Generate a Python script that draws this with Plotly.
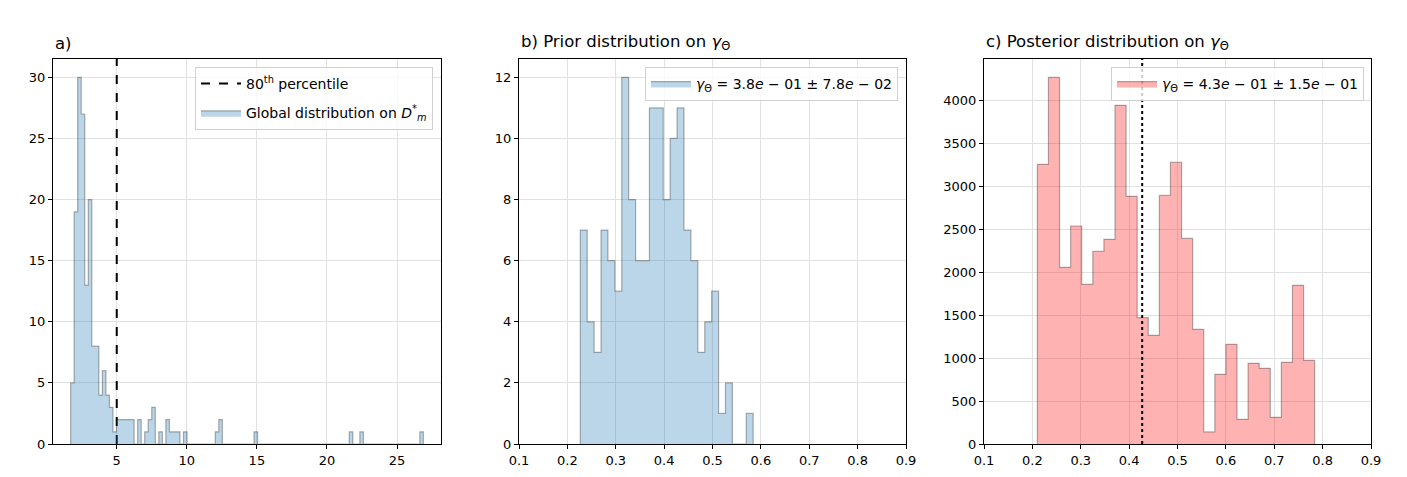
#!/usr/bin/env python3
# -*- coding:utf-8 -*-

import numpy as np
import plotly.graph_objects as go


# the page body keeps its default 8px margin, so the figure is drawn
# 8px inside the window: size it to fit and place things in window pixels
WIN_W   = 1407
WIN_H   = 477
PAD     = 8
FIG_W   = WIN_W - 2 * PAD
FIG_H   = WIN_H - 2 * PAD

# a) global distribution on D*_m : 100 bins between A_LO and A_HI
A_LO = 1.71
A_HI = 26.88
A_COUNTS = [
	5, 19, 30, 27, 13, 20, 8, 8, 4, 6,
	4, 3, 1, 2, 2, 2, 2, 2, 0, 2,
	0, 1, 2, 3, 0, 1, 0, 2, 1, 1,
	1, 0, 1, 0, 0, 0, 0, 0, 0, 0,
	0, 1, 2, 0, 0, 0, 0, 0, 0, 0,
	0, 0, 1, 0, 0, 0, 0, 0, 0, 0,
	0, 0, 0, 0, 0, 0, 0, 0, 0, 0,
	0, 0, 0, 0, 0, 0, 0, 0, 0, 1,
	0, 0, 1, 0, 0, 0, 0, 0, 0, 0,
	0, 0, 0, 0, 0, 0, 0, 0, 0, 1,
]
A_PERCENTILE = 5.0

# b) prior distribution on gamma : 25 bins
B_LO = 0.2267
B_HI = 0.584
B_COUNTS = [
	7, 4, 3, 7, 6, 5, 12, 8, 6, 6,
	11, 11, 8, 10, 11, 7, 6, 3, 4, 5,
	1, 2, 0, 0, 1,
]
B_LABEL = '<i>γ</i><sub>Θ</sub> = 3.8<i>e</i> − 01 ± 7.8<i>e</i> − 02'

# c) posterior distribution on gamma : 25 bins
C_LO = 0.2103
C_HI = 0.7835
C_COUNTS = [
	3252, 4264, 2054, 2535, 1857, 2240, 2380, 3938, 2880, 1469,
	1264, 2891, 3275, 2391, 1333, 140, 810, 1159, 287, 938,
	880, 310, 950, 1845, 973,
]
C_MEAN = 0.427
C_LABEL = '<i>γ</i><sub>Θ</sub> = 4.3<i>e</i> − 01 ± 1.5<i>e</i> − 01'

GAMMA_TICKS = [0.1, 0.2, 0.3, 0.4, 0.5, 0.6, 0.7, 0.8, 0.9]

BLUE_FILL = 'rgba(31,119,180,0.3)'
RED_FILL  = 'rgba(255,0,0,0.3)'
EDGE      = 'rgba(0,0,0,0.3)'
FONT      = 'DejaVu Sans'


def px2paper(xPx, yPx):
	# window pixels -> paper fractions
	return (xPx - PAD) / FIG_W, 1 - (yPx - PAD) / FIG_H


def StepTrace(lo, hi, counts, fillColor, name, xa, ya, legend, showLegend=True):
	# matplotlib style 'stepfilled' outline through hv line shape
	edges = np.linspace(lo, hi, len(counts) + 1)
	xs = [edges[0]] + list(edges[:-1]) + [edges[-1], edges[-1]]
	ys = [0] + list(counts) + [counts[-1], 0]
	return go.Scatter(
		x=xs, y=ys,
		mode='lines',
		line=dict(shape='hv', color=EDGE, width=1.2),
		fill='tozeroy',
		fillcolor=fillColor,
		name=name,
		xaxis=xa, yaxis=ya,
		legend=legend,
		legendgroup=name,
		showlegend=showLegend,
	)


def AxisStyle(domain, **kw):
	d = dict(
		domain=domain,
		automargin=False,
		showline=True, mirror=True, linecolor='black', linewidth=1,
		ticks='outside', ticklen=4, tickcolor='black',
		showgrid=True, gridcolor='#e1e1e1', gridwidth=1,
		zeroline=False,
		tickfont=dict(family=FONT, size=13, color='black'),
	)
	d.update(kw)
	return d


def XDomain(leftPx, rightPx):
	return [px2paper(leftPx, PAD)[0], px2paper(rightPx, PAD)[0]]


def main() -> None:
	fig = go.Figure()

	# panel a
	aTop = max(A_COUNTS) * 1.05
	fig.add_trace(go.Scatter(
		x=[A_PERCENTILE, A_PERCENTILE], y=[0, aTop],
		mode='lines',
		line=dict(color='black', dash='dash', width=2),
		name='80<sup>th</sup> percentile',
		xaxis='x', yaxis='y', legend='legend', legendgroup='pct',
	))
	fig.add_trace(StepTrace(
		A_LO, A_HI, A_COUNTS, BLUE_FILL,
		'Global distribution on <i>D</i><sup>*</sup><sub><i>m</i></sub>',
		'x', 'y', 'legend',
	))

	# panel b
	fig.add_trace(StepTrace(B_LO, B_HI, B_COUNTS, BLUE_FILL, B_LABEL, 'x2', 'y2', 'legend2'))

	# panel c
	cTop = max(C_COUNTS) * 1.05
	fig.add_trace(StepTrace(C_LO, C_HI, C_COUNTS, RED_FILL, C_LABEL, 'x3', 'y3', 'legend3'))
	fig.add_trace(go.Scatter(
		x=[C_MEAN, C_MEAN], y=[0, cTop],
		mode='lines',
		line=dict(color='black', dash='dot', width=2),
		xaxis='x3', yaxis='y3', showlegend=False,
	))

	yDom = [px2paper(PAD, 444)[1], px2paper(PAD, 59)[1]]
	aMargin = (A_HI - A_LO) * 0.05

	fig.update_layout(
		width=FIG_W, height=FIG_H,
		margin=dict(l=0, r=0, t=0, b=0),
		plot_bgcolor='white', paper_bgcolor='white',
		font=dict(family=FONT, size=13, color='black'),
		xaxis=AxisStyle(XDomain(53, 441),
			range=[A_LO - aMargin, A_HI + aMargin], tick0=0, dtick=5, anchor='y'),
		yaxis=AxisStyle(yDom, range=[0, aTop], tick0=0, dtick=5, anchor='x'),
		xaxis2=AxisStyle(XDomain(519, 906),
			range=[GAMMA_TICKS[0], GAMMA_TICKS[-1]], tickvals=GAMMA_TICKS, anchor='y2'),
		yaxis2=AxisStyle(yDom, range=[0, max(B_COUNTS) * 1.05], tick0=0, dtick=2, anchor='x2'),
		xaxis3=AxisStyle(XDomain(984, 1371),
			range=[GAMMA_TICKS[0], GAMMA_TICKS[-1]], tickvals=GAMMA_TICKS, anchor='y3'),
		yaxis3=AxisStyle(yDom, range=[0, cTop], tick0=0, dtick=500, tickformat='d', anchor='x3'),
	)

	legendBase = dict(
		bgcolor='rgba(255,255,255,0.8)',
		bordercolor='#d0d0d0', borderwidth=1,
		font=dict(family=FONT, size=14, color='black'),
		xanchor='right', yanchor='top',
		traceorder='grouped',
		tracegroupgap=8,
		itemwidth=40,
	)
	for key, rightPx in (('legend', 433), ('legend2', 898), ('legend3', 1364)):
		lx, ly = px2paper(rightPx, 67)
		fig.update_layout({key: dict(legendBase, x=lx, y=ly)})

	titles = [
		(53, 'a)'),
		(519, 'b) Prior distribution on <i>γ</i><sub>Θ</sub>'),
		(984, 'c) Posterior distribution on <i>γ</i><sub>Θ</sub>'),
	]
	for leftPx, text in titles:
		tx, ty = px2paper(leftPx, 55)
		fig.add_annotation(
			x=tx, y=ty, xref='paper', yref='paper',
			xanchor='left', yanchor='bottom',
			text=text, showarrow=False,
			font=dict(family=FONT, size=16.5, color='black'),
		)

	fig.write_html('out.html')


if __name__ == '__main__':
	main()
